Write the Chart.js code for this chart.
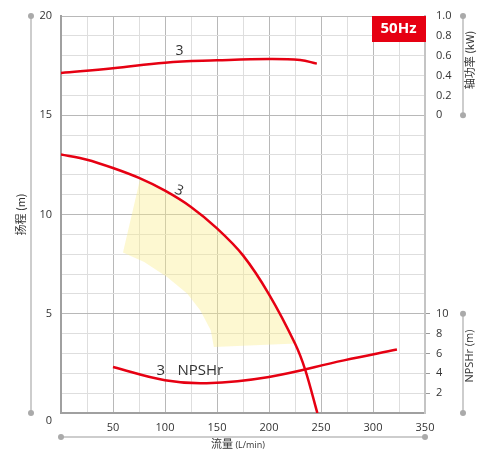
<!DOCTYPE html>
<html>
<head>
<meta charset="utf-8">
<script src="https://cdn.jsdelivr.net/npm/chart.js@4"></script>
<style>
  body { margin: 0; background: #fff; }
  #wrap { width: 477px; height: 449px; }
</style>
</head>
<body>
<div id="wrap"><canvas id="myChart" width="477" height="449"></canvas></div>
<script>
// flow (L/min) vs head (m)
const headFlow = [0, 25, 50, 75, 100, 125, 150, 175, 200, 225, 235, 246.5];
const headVals = [13.02, 12.76, 12.34, 11.84, 11.2, 10.38, 9.3, 7.94, 5.98, 3.5, 2.15, 0];

// shaft power (kW)
const powerFlow = [0, 50, 100, 150, 200, 230, 246];
const powerVals = [0.426, 0.473, 0.53, 0.553, 0.567, 0.556, 0.52];

// NPSHr (m)
const npshFlow = [50, 100, 140, 200, 272, 323];
const npshVals = [4.63, 3.3, 3.0, 3.63, 5.3, 6.39];

// recommended range (yellow area), flow / head
const areaFlow = [76, 100, 125, 150, 175, 200, 226, 147, 144, 134, 121.5, 102, 80, 59.6];
const areaHead = [11.78, 11.15, 10.33, 9.25, 7.89, 5.93, 3.5, 3.33, 4.17, 5.17, 6.01, 6.85, 7.61, 8.08];

const kwTicks = ['0', '0.2', '0.4', '0.6', '0.8', '1.0'];
const npshTicks = ['2', '4', '6', '8', '10'];

const red = '#e60012';
const txt = '#333';
const font = '"Open Sans", "Noto Sans", sans-serif';

function pts(xs, ys) {
  return xs.map((x, i) => ({x: x, y: ys[i]}));
}

function gridColor(major) {
  return function (c) {
    if (!c.tick) return '#ddd';
    return c.tick.value % major === 0 ? '#b8b8b8' : '#dedede';
  };
}

const deco = {
  id: 'deco',
  afterDraw(chart) {
    const ctx = chart.ctx;
    const xs = chart.scales.x, ys = chart.scales.y;
    const a = chart.chartArea;
    ctx.save();

    // axis guide lines with dots
    ctx.strokeStyle = '#bdbdbd';
    ctx.fillStyle = '#aaa';
    ctx.lineWidth = 1.5;
    function guide(x1, y1, x2, y2) {
      ctx.beginPath(); ctx.moveTo(x1, y1); ctx.lineTo(x2, y2); ctx.stroke();
      ctx.beginPath(); ctx.arc(x1, y1, 3, 0, Math.PI * 2); ctx.fill();
      ctx.beginPath(); ctx.arc(x2, y2, 3, 0, Math.PI * 2); ctx.fill();
    }
    guide(31, ys.getPixelForValue(20), 31, ys.getPixelForValue(0));
    guide(a.left, 437, a.right, 437);
    guide(463, ys.getPixelForValue(20), 463, ys.getPixelForValue(15));
    guide(463, ys.getPixelForValue(5), 463, ys.getPixelForValue(0));

    // origin label
    ctx.fillStyle = txt;
    ctx.font = '11px ' + font;
    ctx.textAlign = 'center';
    ctx.textBaseline = 'middle';
    ctx.fillText('0', 49, ys.getPixelForValue(0) + 8);

    // axis titles
    function vtext(str, x, y, f) {
      ctx.save();
      ctx.translate(x, y);
      ctx.rotate(-Math.PI / 2);
      ctx.font = f;
      ctx.fillText(str, 0, 0);
      ctx.restore();
    }
    const cjk = '"Noto Sans CJK SC", sans-serif';
    vtext('扬程 (m)', 21, (a.top + a.bottom) / 2, '11px ' + cjk);
    vtext('轴功率 (kW)', 470, 60, '11px ' + cjk);
    vtext('NPSHr (m)', 470, 356, '11px ' + font);

    ctx.textAlign = 'left';
    ctx.font = '11px ' + cjk;
    const w1 = ctx.measureText('流量').width;
    ctx.font = '9px ' + font;
    const w2 = ctx.measureText(' (L/min)').width;
    let sx = 238 - (w1 + w2) / 2;
    ctx.font = '11px ' + cjk;
    ctx.fillText('流量', sx, 444);
    ctx.font = '9px ' + font;
    ctx.fillText(' (L/min)', sx + w1, 445);

    // 50Hz badge
    ctx.fillStyle = red;
    ctx.fillRect(372, a.top, a.right - 372 + 1, 26);
    ctx.fillStyle = '#fff';
    ctx.font = 'bold 15px ' + font;
    ctx.textAlign = 'center';
    ctx.fillText('50Hz', (372 + a.right) / 2, a.top + 13);

    // curve labels
    const kw = chart.scales.yKW;
    const np = chart.scales.yNP;
    ctx.fillStyle = txt;
    ctx.font = '14px ' + font;
    ctx.fillText('3', xs.getPixelForValue(114), kw.getPixelForValue(0.65));
    ctx.save();
    ctx.translate(xs.getPixelForValue(113.5), ys.getPixelForValue(11.2));
    ctx.rotate(0.4);
    ctx.font = '14px ' + font;
    ctx.fillText('3', 0, 0);
    ctx.restore();
    ctx.font = '15px ' + font;
    ctx.fillText('3', xs.getPixelForValue(96), np.getPixelForValue(4.25));
    ctx.textAlign = 'left';
    ctx.fillText('NPSHr', xs.getPixelForValue(112), np.getPixelForValue(4.25));
    ctx.restore();
  }
};

var ctx = document.getElementById('myChart').getContext('2d');
var myChart = new Chart(ctx, {
  type: 'scatter',
  data: {
    datasets: [
      {
        data: pts(areaFlow, areaHead),
        yAxisID: 'y',
        showLine: true,
        tension: 0,
        borderWidth: 0,
        pointRadius: 0,
        backgroundColor: 'rgba(250, 238, 140, 0.4)',
        fill: 'shape',
        order: 10
      },
      {
        data: pts(headFlow, headVals),
        yAxisID: 'y',
        showLine: true,
        tension: 0.3,
        borderColor: red,
        borderWidth: 2.5,
        pointRadius: 0
      },
      {
        data: pts(powerFlow, powerVals),
        yAxisID: 'yKW',
        showLine: true,
        tension: 0.4,
        borderColor: red,
        borderWidth: 2.5,
        pointRadius: 0
      },
      {
        data: pts(npshFlow, npshVals),
        yAxisID: 'yNP',
        showLine: true,
        tension: 0.4,
        borderColor: red,
        borderWidth: 2.5,
        pointRadius: 0
      }
    ]
  },
  options: {
    responsive: false,
    animation: false,
    layout: { padding: { top: 16 } },
    plugins: { legend: { display: false }, tooltip: { enabled: false } },
    scales: {
      x: {
        type: 'linear',
        min: 0, max: 350,
        afterFit(s) { s.height = 36; },
        border: { color: '#a0a0a0', width: 2 },
        grid: { color: gridColor(50), lineWidth: 1, drawTicks: false },
        ticks: {
          stepSize: 25,
          padding: 8,
          color: txt,
          font: { size: 11, family: font },
          maxRotation: 0,
          autoSkip: false,
          callback: v => (v % 50 === 0 && v > 0) ? String(v) : ''
        }
      },
      y: {
        position: 'left',
        min: 0, max: 20,
        afterFit(s) { s.width = 61; },
        border: { color: '#a0a0a0', width: 2 },
        grid: { color: gridColor(5), lineWidth: 1, drawTicks: false },
        ticks: {
          stepSize: 1,
          padding: 9,
          color: txt,
          font: { size: 11, family: font },
          autoSkip: false,
          callback: v => (v % 5 === 0 && v > 0) ? String(v) : ''
        }
      },
      yR: {
        position: 'right',
        min: 0, max: 20,
        afterFit(s) { s.width = 52; },
        border: { color: '#c4c4c4', width: 2 },
        grid: {
          drawOnChartArea: false,
          tickLength: 5,
          tickColor: c => (c.tick && c.tick.value >= 1 && c.tick.value <= 5) ? '#999' : 'rgba(0,0,0,0)'
        },
        ticks: {
          stepSize: 1,
          padding: 6,
          color: txt,
          font: { size: 11, family: font },
          autoSkip: false,
          callback: function (v) {
            if (v >= 15) return kwTicks[v - 15];
            if (v >= 1 && v <= 5) return npshTicks[v - 1];
            return '';
          }
        }
      },
      yKW: { display: false, min: -3, max: 1 },
      yNP: { display: false, min: 0, max: 40 }
    }
  },
  plugins: [deco]
});
</script>
</body>
</html>
